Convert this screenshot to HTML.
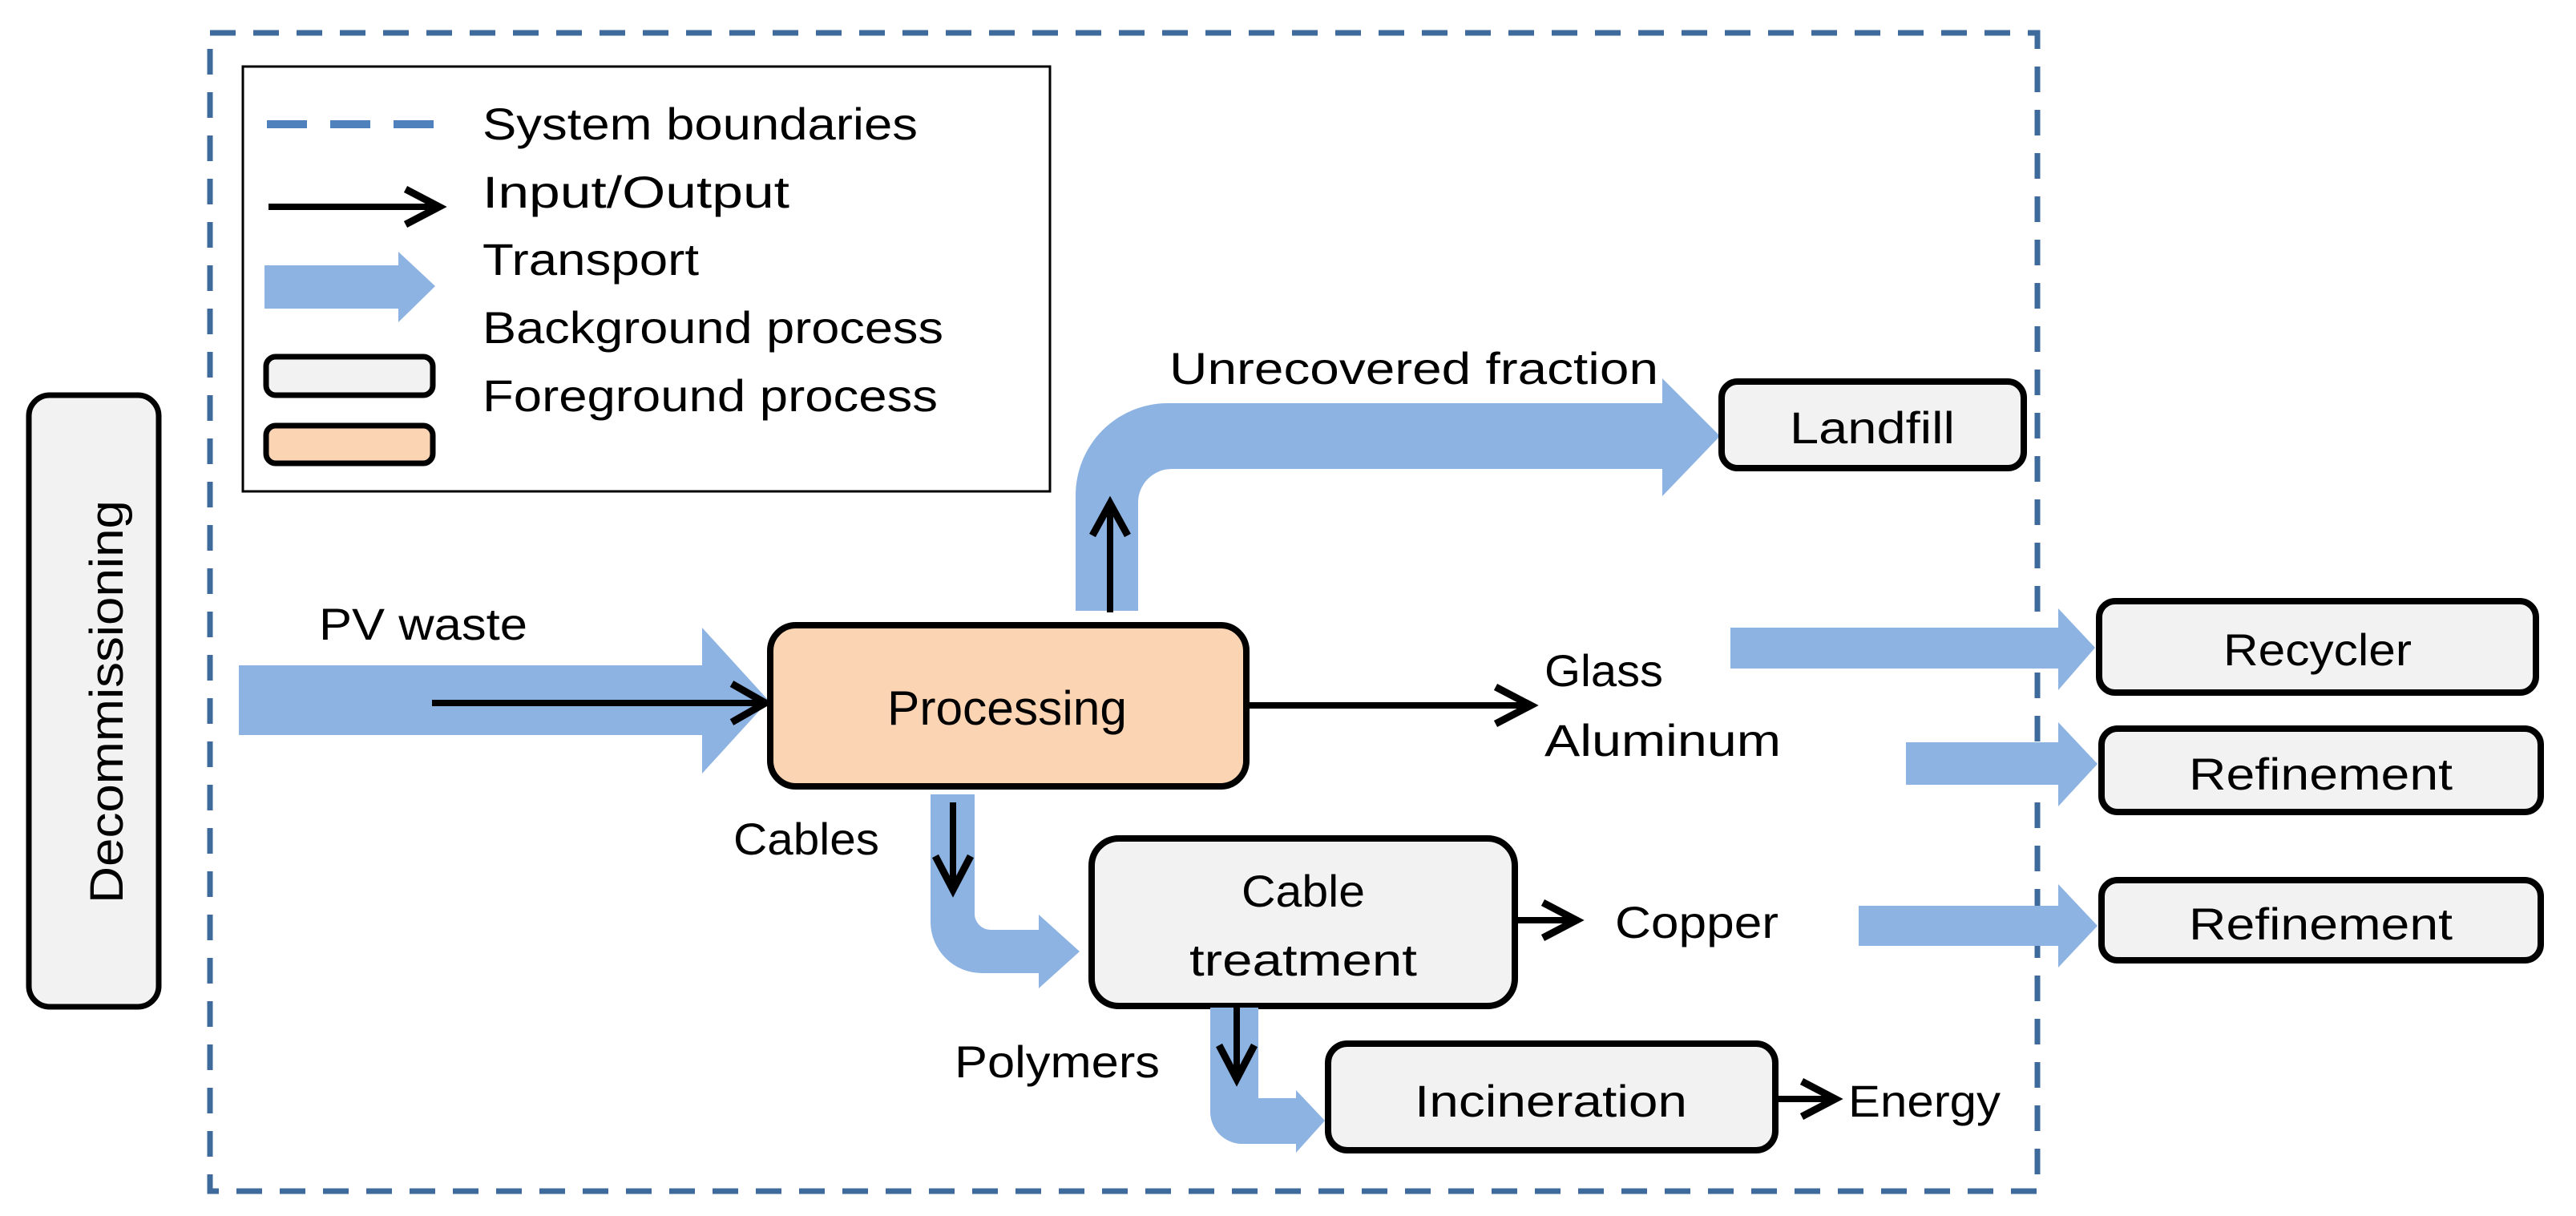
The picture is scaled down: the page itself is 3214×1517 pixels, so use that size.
<!DOCTYPE html>
<html><head><meta charset="utf-8"><style>
html,body{margin:0;padding:0;background:#fff;}
svg{display:block;}
text{font-family:"Liberation Sans",sans-serif;fill:#000;}
</style></head><body>
<svg width="3214" height="1517" viewBox="0 0 3214 1517" xmlns="http://www.w3.org/2000/svg">
<!-- system boundary -->
<rect x="262" y="41" width="2280" height="1445" fill="none" stroke="#3f6a9c" stroke-width="7" stroke-dasharray="32,22"/>
<!-- legend -->
<rect x="303" y="83" width="1007" height="530" fill="#fff" stroke="#000" stroke-width="3"/>
<line x1="333" y1="155" x2="556" y2="155" stroke="#4f81bd" stroke-width="10" stroke-dasharray="50,29"/>
<line x1="335" y1="258" x2="548" y2="258" stroke="#000" stroke-width="8"/>
<polyline points="506,236 548,258 506,280" fill="none" stroke="#000" stroke-width="9" stroke-linejoin="miter"/>
<polygon points="330,331 497,331 497,314 543,357 497,402 497,385 330,385" fill="#8db3e2"/>
<rect x="332" y="445" width="208" height="48" rx="12" fill="#f2f2f2" stroke="#000" stroke-width="7"/>
<rect x="332" y="531" width="208" height="47" rx="12" fill="#fbd4b4" stroke="#000" stroke-width="7"/>
<g font-size="56">
<text x="602" y="174" textLength="543" lengthAdjust="spacingAndGlyphs">System boundaries</text>
<text x="602" y="259" textLength="383" lengthAdjust="spacingAndGlyphs">Input/Output</text>
<text x="602" y="343" textLength="270" lengthAdjust="spacingAndGlyphs">Transport</text>
<text x="602" y="428" textLength="575" lengthAdjust="spacingAndGlyphs">Background process</text>
<text x="602" y="513" textLength="568" lengthAdjust="spacingAndGlyphs">Foreground process</text>
</g>
<!-- Decommissioning -->
<rect x="36" y="493" width="162" height="763" rx="26" fill="#f2f2f2" stroke="#000" stroke-width="7"/>
<text transform="translate(153,1127) rotate(-90)" font-size="58" textLength="503" lengthAdjust="spacingAndGlyphs">Decommissioning</text>
<!-- PV waste transport -->
<polygon points="298,830 876,830 876,783 959,874 876,965 876,917 298,917" fill="#8db3e2"/>
<line x1="539" y1="877" x2="953" y2="877" stroke="#000" stroke-width="8"/>
<polyline points="913,853 955,877 913,901" fill="none" stroke="#000" stroke-width="9"/>
<text x="398" y="798" font-size="56" textLength="260" lengthAdjust="spacingAndGlyphs">PV waste</text>
<!-- unrecovered transport -->
<path d="M1342,762 L1342,618 A115,115 0 0 1 1457,503 L2074,503 L2074,472 L2146,544 L2074,619 L2074,585 L1462,585 A42,42 0 0 0 1420,627 L1420,762 Z" fill="#8db3e2"/>
<line x1="1385" y1="764" x2="1385" y2="630" stroke="#000" stroke-width="8"/>
<polyline points="1363,668 1385,628 1407,668" fill="none" stroke="#000" stroke-width="9"/>
<text x="1459" y="479" font-size="56" textLength="610" lengthAdjust="spacingAndGlyphs">Unrecovered fraction</text>
<!-- Processing -->
<rect x="961" y="780" width="594" height="201" rx="32" fill="#fbd4b4" stroke="#000" stroke-width="8"/>
<text x="1107" y="904" font-size="60" textLength="299" lengthAdjust="spacingAndGlyphs">Processing</text>
<!-- Glass arrow -->
<line x1="1556" y1="880" x2="1908" y2="880" stroke="#000" stroke-width="8"/>
<polyline points="1866,857 1910,880 1866,903" fill="none" stroke="#000" stroke-width="9"/>
<text x="1927" y="856" font-size="56" textLength="148" lengthAdjust="spacingAndGlyphs">Glass</text>
<text x="1927" y="943" font-size="56" textLength="295" lengthAdjust="spacingAndGlyphs">Aluminum</text>
<!-- Landfill -->
<rect x="2148" y="476" width="377" height="108" rx="20" fill="#f2f2f2" stroke="#000" stroke-width="8"/>
<text x="2233" y="553" font-size="56" textLength="206" lengthAdjust="spacingAndGlyphs">Landfill</text>
<!-- Recycler -->
<polygon points="2159,783 2568,783 2568,759 2614,808 2568,861 2568,834 2159,834" fill="#8db3e2"/>
<rect x="2619" y="750" width="545" height="114" rx="20" fill="#f2f2f2" stroke="#000" stroke-width="8"/>
<text x="2774" y="830" font-size="56" textLength="235" lengthAdjust="spacingAndGlyphs">Recycler</text>
<!-- Refinement 1 -->
<polygon points="2378,926 2568,926 2568,901 2617,953 2568,1006 2568,979 2378,979" fill="#8db3e2"/>
<rect x="2622" y="909" width="548" height="104" rx="20" fill="#f2f2f2" stroke="#000" stroke-width="8"/>
<text x="2731" y="985" font-size="56" textLength="329" lengthAdjust="spacingAndGlyphs">Refinement</text>
<!-- Refinement 2 -->
<polygon points="2319,1130 2568,1130 2568,1103 2617,1155 2568,1207 2568,1180 2319,1180" fill="#8db3e2"/>
<rect x="2622" y="1098" width="548" height="100" rx="20" fill="#f2f2f2" stroke="#000" stroke-width="8"/>
<text x="2731" y="1172" font-size="56" textLength="329" lengthAdjust="spacingAndGlyphs">Refinement</text>
<!-- Cables transport -->
<path d="M1161,991 L1161,1150 A64,64 0 0 0 1225,1214 L1296,1214 L1296,1233 L1347,1187 L1296,1141 L1296,1160 L1236,1160 A20,20 0 0 1 1216,1140 L1216,991 Z" fill="#8db3e2"/>
<line x1="1189" y1="1001" x2="1189" y2="1106" stroke="#000" stroke-width="8"/>
<polyline points="1167,1068 1189,1110 1211,1068" fill="none" stroke="#000" stroke-width="9"/>
<text x="915" y="1066" font-size="56" textLength="182" lengthAdjust="spacingAndGlyphs">Cables</text>
<!-- Cable treatment -->
<rect x="1362" y="1046" width="528" height="209" rx="34" fill="#f2f2f2" stroke="#000" stroke-width="8"/>
<text x="1549" y="1131" font-size="56" textLength="154" lengthAdjust="spacingAndGlyphs">Cable</text>
<text x="1484" y="1217" font-size="56" textLength="284" lengthAdjust="spacingAndGlyphs">treatment</text>
<line x1="1890" y1="1148" x2="1965" y2="1148" stroke="#000" stroke-width="8"/>
<polyline points="1925,1126 1967,1148 1925,1170" fill="none" stroke="#000" stroke-width="9"/>
<text x="2015" y="1170" font-size="56" textLength="204" lengthAdjust="spacingAndGlyphs">Copper</text>
<!-- Polymers transport -->
<path d="M1510,1257 L1510,1387 A40,40 0 0 0 1550,1427 L1617,1427 L1617,1438 L1653,1398 L1617,1360 L1617,1370 L1570,1370 L1570,1257 Z" fill="#8db3e2"/>
<line x1="1543" y1="1257" x2="1543" y2="1342" stroke="#000" stroke-width="8"/>
<polyline points="1521,1304 1543,1346 1565,1304" fill="none" stroke="#000" stroke-width="9"/>
<text x="1191" y="1344" font-size="56" textLength="256" lengthAdjust="spacingAndGlyphs">Polymers</text>
<!-- Incineration -->
<rect x="1657" y="1302" width="558" height="133" rx="24" fill="#f2f2f2" stroke="#000" stroke-width="8"/>
<text x="1765" y="1393" font-size="56" textLength="340" lengthAdjust="spacingAndGlyphs">Incineration</text>
<line x1="2215" y1="1371" x2="2286" y2="1371" stroke="#000" stroke-width="8"/>
<polyline points="2248,1349 2290,1371 2248,1393" fill="none" stroke="#000" stroke-width="9"/>
<text x="2306" y="1393" font-size="56" textLength="190" lengthAdjust="spacingAndGlyphs">Energy</text>
</svg>
</body></html>
